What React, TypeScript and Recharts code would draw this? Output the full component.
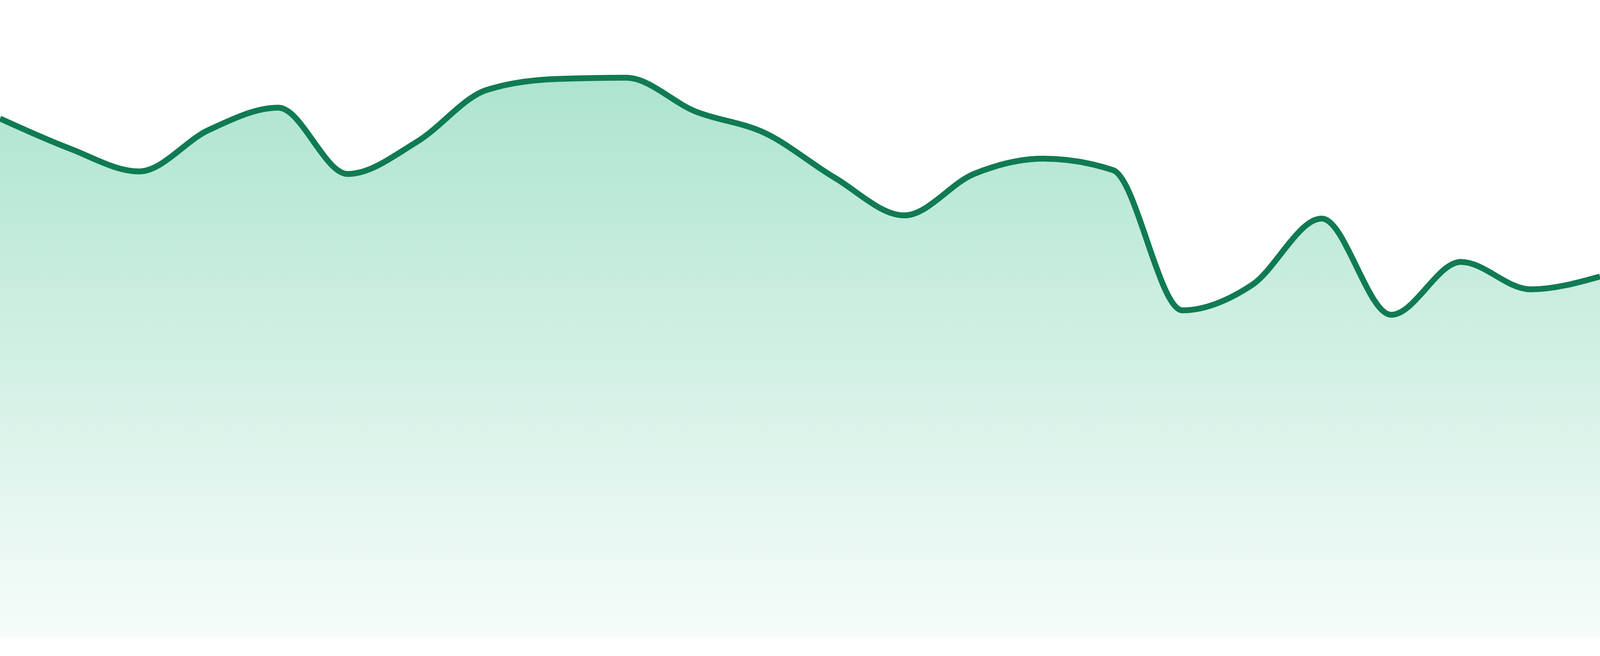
import React from 'react';
import { AreaChart, Area, XAxis, YAxis } from 'recharts';

// 24 samples, evenly spaced, edge to edge
const points = [
  'p01', 'p02', 'p03', 'p04', 'p05', 'p06', 'p07', 'p08',
  'p09', 'p10', 'p11', 'p12', 'p13', 'p14', 'p15', 'p16',
  'p17', 'p18', 'p19', 'p20', 'p21', 'p22', 'p23', 'p24',
];

const values = [
  81.4, 76.7, 73.1, 79.6, 83.1, 72.7, 77.8, 85.9,
  87.6, 87.8, 82.5, 79.1, 72.1, 66.2, 72.7, 75.1,
  73.3, 51.3, 55.3, 65.7, 50.6, 58.9, 54.6, 56.6,
];

const yDomain = [0, 100];

const LINE = '#107b52';
const FILL = '#1cb47a';

// the page is 4096 css px wide in the harness
const W = 4096;
const H = 1632;

export default function App() {
  const data = points.map((p, i) => ({ name: p, value: values[i] }));

  return (
    <div style={{ position: 'absolute', left: 0, top: 0 }}>
      <AreaChart width={W} height={H} data={data} margin={{ top: 0, right: 0, bottom: 0, left: 0 }}>
        <defs>
          <linearGradient id="areaFill" x1="0" y1="0" x2="0" y2="1">
            <stop offset="0%" stopColor={FILL} stopOpacity={0.36} />
            <stop offset="100%" stopColor={FILL} stopOpacity={0.04} />
          </linearGradient>
        </defs>
        <XAxis dataKey="name" hide />
        <YAxis domain={yDomain} hide />
        <Area
          type="monotone"
          dataKey="value"
          stroke={LINE}
          strokeWidth={15}
          fill="url(#areaFill)"
          fillOpacity={1}
          dot={false}
          activeDot={false}
          isAnimationActive={false}
        />
      </AreaChart>
    </div>
  );
}
